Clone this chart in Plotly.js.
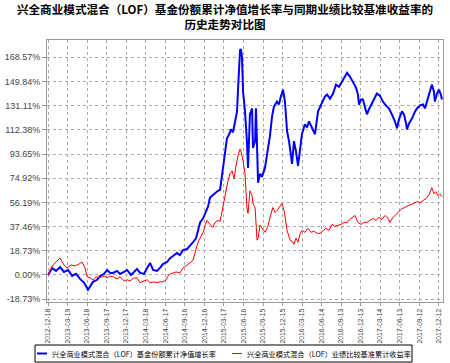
<!DOCTYPE html>
<html><head><meta charset="utf-8">
<script src="https://cdn.plot.ly/plotly-3.0.1.min.js"></script>
<style>html,body{margin:0;padding:0;background:#fff}#c{width:450px;height:363px}</style>
</head><body><div id="c"></div>
<script>
const titleText = "兴全商业模式混合（LOF）基金份额累计净值增长率与同期业绩比较基准收益率的<br>历史走势对比图";
const seriesNames = ["兴全商业模式混合（LOF）基金份额累计净值增长率", "兴全商业模式混合（LOF）业绩比较基准累计收益率"];
const seriesColors = ["#0000ff", "#ff0000"];
const seriesWidths = [2, 1];

const xTickLabels = ["2012-12-18","2013-03-19","2013-06-18","2013-09-17","2013-12-17","2014-03-18","2014-06-17","2014-09-16","2014-12-16","2015-03-17","2015-06-16","2015-09-15","2015-12-15","2016-03-15","2016-06-14","2016-09-13","2016-12-13","2017-03-14","2017-06-13","2017-09-12","2017-12-12"];
const yTickValues = [-18.73, 0, 18.73, 37.46, 56.19, 74.92, 93.65, 112.38, 131.11, 149.84, 168.57];

const fundDates = ["2012-12-18","2013-01-06","2013-01-24","2013-02-12","2013-03-02","2013-03-21","2013-04-09","2013-04-27","2013-05-16","2013-06-04","2013-06-22","2013-07-02","2013-07-15","2013-08-03","2013-08-17","2013-09-05","2013-09-19","2013-10-03","2013-10-17","2013-11-04","2013-11-18","2013-12-07","2013-12-21","2014-01-08","2014-01-22","2014-02-05","2014-02-19","2014-03-10","2014-03-24","2014-04-07","2014-04-21","2014-05-09","2014-05-23","2014-06-06","2014-06-25","2014-07-09","2014-07-23","2014-08-10","2014-08-24","2014-09-07","2014-09-26","2014-10-10","2014-10-24","2014-11-07","2014-11-16","2014-11-26","2014-12-10","2014-12-23","2015-01-02","2015-01-11","2015-01-25","2015-02-08","2015-02-17","2015-02-27","2015-03-08","2015-03-13","2015-03-22","2015-03-31","2015-04-10","2015-04-19","2015-04-28","2015-05-08","2015-05-17","2015-05-21","2015-05-26","2015-05-31","2015-06-04","2015-06-09","2015-06-14","2015-06-23","2015-07-02","2015-07-07","2015-07-16","2015-07-26","2015-07-30","2015-08-09","2015-08-13","2015-08-23","2015-09-01","2015-09-10","2015-09-24","2015-10-08","2015-10-17","2015-10-27","2015-11-05","2015-11-19","2015-11-28","2015-12-07","2015-12-17","2015-12-26","2016-01-05","2016-01-14","2016-01-19","2016-01-28","2016-02-06","2016-02-15","2016-02-25","2016-03-05","2016-03-14","2016-03-28","2016-04-07","2016-04-16","2016-04-30","2016-05-14","2016-05-28","2016-06-11","2016-06-20","2016-06-29","2016-07-09","2016-07-23","2016-08-06","2016-08-20","2016-09-03","2016-09-17","2016-10-01","2016-10-10","2016-10-24","2016-11-07","2016-11-21","2016-11-30","2016-12-05","2016-12-14","2016-12-23","2017-01-02","2017-01-11","2017-01-20","2017-02-03","2017-02-17","2017-02-26","2017-03-12","2017-03-26","2017-04-09","2017-04-23","2017-05-07","2017-05-21","2017-05-31","2017-06-09","2017-06-23","2017-07-02","2017-07-12","2017-07-16","2017-07-26","2017-08-09","2017-08-23","2017-09-01","2017-09-15","2017-09-29","2017-10-08","2017-10-22","2017-10-31","2017-11-09","2017-11-19","2017-11-23","2017-12-03","2017-12-12","2017-12-21","2017-12-26"];
const fundValues = [0,5.4,3.1,6.1,2.3,3.8,-0.8,0.8,-3.1,-6.1,-11.5,-8.4,-5.4,-3.8,-0.8,0.8,3.8,1.5,1.5,3.1,0.8,2.3,3.8,0,2.3,4.6,1.5,0.8,5.4,9.2,3.8,3.1,5.4,8.4,10.0,13.0,14.6,16.9,15.4,19.2,20.0,22.3,25.3,28.4,34.5,40.7,43.8,48.4,53.0,59.9,62.2,63.7,65.2,66.0,76.8,82.9,96.0,105.9,109.0,112.8,110.5,119.0,126.7,142.0,165.0,174.2,175.0,168.9,142.0,126.7,103.6,82.9,124.4,129.0,98.3,103.6,129.0,71.4,78.3,76.0,82.9,96.0,107.5,122.8,130.5,134.3,132.0,138.2,143.5,134.3,111.3,103.6,96.0,86.0,103.6,96.0,84.4,96.0,109.0,116.7,114.3,119.0,113.6,109.0,126.7,132.0,134.3,138.2,139.7,136.6,140.5,147.4,145.8,149.7,153.5,156.6,153.5,149.7,145.1,139.7,132.0,135.9,135.9,129.7,124.4,128.2,132.8,136.6,140.5,138.9,134.3,131.3,129.0,124.4,119.0,113.6,120.5,126.7,124.4,117.4,112.8,117.4,121.3,126.7,129.0,131.3,132.0,129.0,136.6,142.0,147.4,142.0,134.3,140.5,143.5,139.7,135.9];

const benchDates = ["2012-12-18","2013-01-06","2013-01-24","2013-02-12","2013-03-02","2013-03-16","2013-04-04","2013-04-23","2013-05-11","2013-05-25","2013-06-08","2013-06-18","2013-07-02","2013-07-15","2013-07-29","2013-08-17","2013-09-05","2013-09-19","2013-10-03","2013-10-17","2013-11-04","2013-11-18","2013-12-07","2013-12-21","2014-01-04","2014-01-22","2014-02-05","2014-02-19","2014-03-10","2014-03-24","2014-04-07","2014-04-25","2014-05-09","2014-05-23","2014-06-06","2014-06-20","2014-06-30","2014-07-09","2014-07-23","2014-08-06","2014-08-24","2014-09-07","2014-09-21","2014-10-05","2014-10-15","2014-10-24","2014-11-02","2014-11-12","2014-11-21","2014-11-30","2014-12-10","2014-12-19","2014-12-28","2015-01-07","2015-01-16","2015-01-25","2015-02-03","2015-02-17","2015-02-27","2015-03-08","2015-03-17","2015-03-27","2015-04-05","2015-04-14","2015-04-24","2015-05-03","2015-05-12","2015-05-21","2015-05-31","2015-06-04","2015-06-14","2015-06-23","2015-07-02","2015-07-07","2015-07-16","2015-07-26","2015-07-30","2015-08-09","2015-08-18","2015-08-23","2015-09-01","2015-09-10","2015-09-24","2015-10-08","2015-10-17","2015-10-31","2015-11-10","2015-11-19","2015-12-03","2015-12-12","2015-12-22","2015-12-31","2016-01-05","2016-01-19","2016-01-28","2016-02-06","2016-02-15","2016-02-25","2016-03-05","2016-03-14","2016-03-28","2016-04-11","2016-04-25","2016-05-09","2016-05-23","2016-06-06","2016-06-20","2016-07-04","2016-07-18","2016-08-01","2016-08-15","2016-08-29","2016-09-12","2016-09-26","2016-10-10","2016-10-24","2016-11-07","2016-11-16","2016-11-30","2016-12-14","2016-12-28","2017-01-11","2017-01-25","2017-02-08","2017-02-22","2017-03-08","2017-03-22","2017-04-05","2017-04-19","2017-04-28","2017-05-12","2017-05-26","2017-06-09","2017-06-23","2017-07-07","2017-07-21","2017-08-04","2017-08-18","2017-09-01","2017-09-15","2017-09-29","2017-10-13","2017-10-27","2017-11-05","2017-11-09","2017-11-19","2017-11-28","2017-12-07","2017-12-16","2017-12-26"];
const benchValues = [0,6.9,10.0,13.0,7.7,5.4,7.7,6.9,8.4,10.0,5.4,-1.5,-2.3,-3.8,-1.5,-2.3,-0.8,-2.3,-0.8,-1.5,-3.1,-1.5,-4.6,-3.8,-4.6,-2.3,-2.3,-6.1,-4.6,-3.8,-6.1,-5.4,-6.1,-5.4,-5.4,-3.8,-0.8,0.8,1.5,2.3,1.5,5.4,6.9,8.4,10.0,11.5,17.7,23.0,26.9,29.9,33.0,38.4,42.2,39.9,38.4,36.8,40.7,42.2,41.4,49.9,57.6,65.2,72.9,78.3,80.6,74.5,84.4,92.1,97.5,96.0,88.3,78.3,52.2,47.6,65.2,61.4,55.3,52.2,26.9,28.4,38.4,36.1,33.0,37.6,44.5,52.2,48.4,49.9,53.7,55.3,49.9,40.7,34.5,26.9,26.1,23.8,28.4,25.3,31.5,34.5,33.0,36.1,33.0,33.8,32.2,32.2,34.5,36.1,34.5,39.1,37.6,38.4,39.1,40.7,40.7,43.0,45.3,46.1,40.7,39.1,40.7,40.7,42.2,43.8,42.2,44.5,43.0,46.1,43.8,40.7,44.5,46.8,49.1,51.4,52.2,53.7,54.5,55.3,56.8,56.0,57.6,59.1,62.2,65.2,67.5,62.9,64.5,61.4,62.9,60.6];

const fmt = v => v.toFixed(2) + "%";

const W = 450, H = 363, M = {l: 47, r: 7, t: 40, b: 61};
const PW = W - M.l - M.r, PH = H - M.t - M.b;
const px = v => (v - M.l) / PW;        // page pixel -> paper x
const py = v => (H - M.b - v) / PH;     // page pixel -> paper y

const traces = [
  {x: fundDates, y: fundValues, name: seriesNames[0], type: "scatter", mode: "lines",
   line: {color: seriesColors[0], width: seriesWidths[0]}},
  {x: benchDates, y: benchValues, name: seriesNames[1], type: "scatter", mode: "lines",
   line: {color: seriesColors[1], width: seriesWidths[1]}}
];

// Legend box (drawn as layout decoration, in the bottom margin)
const legendY = 353.5, legendItems = [{x: 37, tx: 50}, {x: 232, tx: 245}];
const shapes = [
  {type: "rect", xref: "paper", yref: "paper", x0: px(35), x1: px(412), y0: py(345), y1: py(362),
   line: {color: "#000", width: 1}, fillcolor: "rgba(0,0,0,0)", layer: "above"}
];
const annotations = [];
legendItems.forEach((it, i) => {
  shapes.push({type: "line", xref: "paper", yref: "paper", x0: px(it.x), x1: px(it.x + 10),
               y0: py(legendY), y1: py(legendY), line: {color: seriesColors[i], width: seriesWidths[i]}});
  annotations.push({xref: "paper", yref: "paper", x: px(it.tx), y: py(legendY), xanchor: "left", yanchor: "middle",
                    text: seriesNames[i], showarrow: false,
                    font: {family: "Noto Sans CJK SC", size: 7.2, color: "#000"}});
});

const layout = {
  width: W, height: H,
  margin: {l: M.l, r: M.r, t: M.t, b: M.b, autoexpand: false},
  paper_bgcolor: "#fff", plot_bgcolor: "#fff",
  title: {text: titleText, x: 0.5, xanchor: "center", xref: "container",
          y: 0.962, yref: "container", yanchor: "top", pad: {t: 0},
          font: {family: "Noto Sans CJK SC", size: 11.6, color: "#000", weight: "bold"}},
  showlegend: false,
  shapes: shapes,
  annotations: annotations,
  xaxis: {type: "date", range: ["2012-12-13", "2017-12-31"],
          tickmode: "array", tickvals: xTickLabels, ticktext: xTickLabels,
          tickangle: -90, tickfont: {family: "Liberation Sans", size: 6.8, color: "#444"},
          showgrid: true, gridcolor: "#aaa", griddash: "dot", gridwidth: 1,
          showline: true, linecolor: "#999", linewidth: 1, mirror: true,
          ticks: "outside", ticklen: 3, tickcolor: "#999", zeroline: false, automargin: false},
  yaxis: {range: [-21, 182], tickmode: "array", tickvals: yTickValues, ticktext: yTickValues.map(fmt),
          tickfont: {family: "Liberation Sans", size: 9, color: "#444"},
          showgrid: true, gridcolor: "#aaa", griddash: "dot", gridwidth: 1,
          showline: true, linecolor: "#999", linewidth: 1, mirror: true,
          ticks: "outside", ticklen: 4, tickcolor: "#999", zeroline: false, automargin: false},
  hovermode: false
};

Plotly.newPlot("c", traces, layout, {displayModeBar: false, staticPlot: true});
</script>
</body></html>
